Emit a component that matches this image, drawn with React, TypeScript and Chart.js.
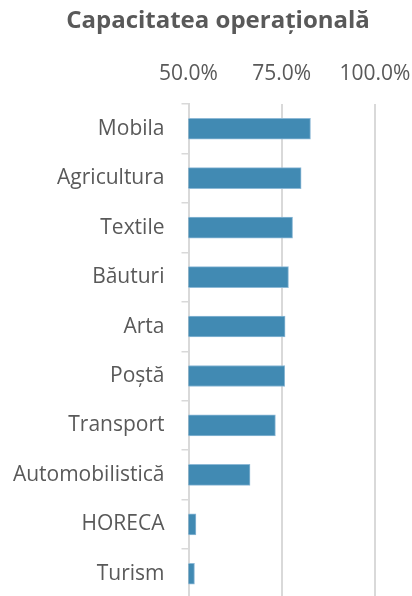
import React, { useEffect, useRef } from "react";
import { Chart, registerables } from "chart.js";

Chart.register(...registerables);

const titleText = "Capacitatea operațională";
const categories = [
  "Mobila",
  "Agricultura",
  "Textile",
  "Băuturi",
  "Arta",
  "Poștă",
  "Transport",
  "Automobilistică",
  "HORECA",
  "Turism",
];
const capacity = [82.7, 80.2, 77.9, 76.8, 75.9, 75.8, 73.3, 66.5, 52.0, 51.6];
const axisMin = 50;
const axisMax = 100;
const axisStep = 25;

const W = 412;
const H = 600;

export default function App() {
  const ref = useRef<HTMLCanvasElement | null>(null);

  useEffect(() => {
    const canvas = ref.current;
    if (!canvas) return;
    const font = "'Open Sans', sans-serif";
    const shiftTitle = {
      id: "shiftTitle",
      afterLayout(chart: any) {
        const t = chart.titleBlock;
        if (t) {
          t.left = 24;
          t.right = W;
        }
      },
    };
    const chart = new Chart(canvas, {
      type: "bar",
      data: {
        labels: categories,
        datasets: [
          {
            data: capacity,
            backgroundColor: "#418AB3",
            borderColor: "#8DB9D6",
            borderWidth: 1,
            borderSkipped: false,
            barThickness: 21,
          },
        ],
      },
      options: {
        indexAxis: "y",
        responsive: false,
        animation: false,
        devicePixelRatio: 1,
        layout: { padding: { left: 0, right: 0, top: 0, bottom: 1.5 } },
        plugins: {
          legend: { display: false },
          tooltip: { enabled: false },
          title: {
            display: true,
            text: titleText,
            color: "#595959",
            font: { family: font, size: 24, weight: "bold" },
            padding: { top: 7, bottom: 0 },
          },
        },
        scales: {
          x: {
            position: "top",
            min: axisMin,
            max: axisMax,
            ticks: {
              stepSize: axisStep,
              color: "#595959",
              font: { family: font, size: 21 },
              padding: 17.6,
              maxRotation: 0,
              callback: (v: any) => Number(v).toFixed(1) + "%",
            },
            grid: {
              color: "#d9d9d9",
              lineWidth: 2,
              drawTicks: false,
            },
            border: { display: false },
            afterFit: (scale: any) => {
              scale.height = 68.2;
              scale.paddingLeft = 0;
              scale.paddingRight = 37;
            },
          },
          y: {
            ticks: {
              color: "#595959",
              font: { family: font, size: 21 },
              padding: 17,
            },
            grid: {
              display: true,
              offset: true,
              drawOnChartArea: false,
              drawTicks: true,
              tickLength: 7,
              color: "#d9d9d9",
              lineWidth: 1.5,
            },
            border: { display: true, color: "#d9d9d9", width: 2 },
            afterFit: (scale: any) => {
              scale.width = 188.5;
              scale.paddingTop = 0;
              scale.paddingBottom = 0;
            },
          },
        },
      },
      plugins: [shiftTitle],
    });
    return () => chart.destroy();
  }, []);

  return (
    <div
      style={{
        position: "fixed",
        left: 0,
        top: 0,
        width: 412,
        height: 596,
        overflow: "hidden",
        background: "#fff",
      }}
    >
      <canvas ref={ref} width={W} height={H} style={{ width: W, height: H, display: "block" }} />
    </div>
  );
}
